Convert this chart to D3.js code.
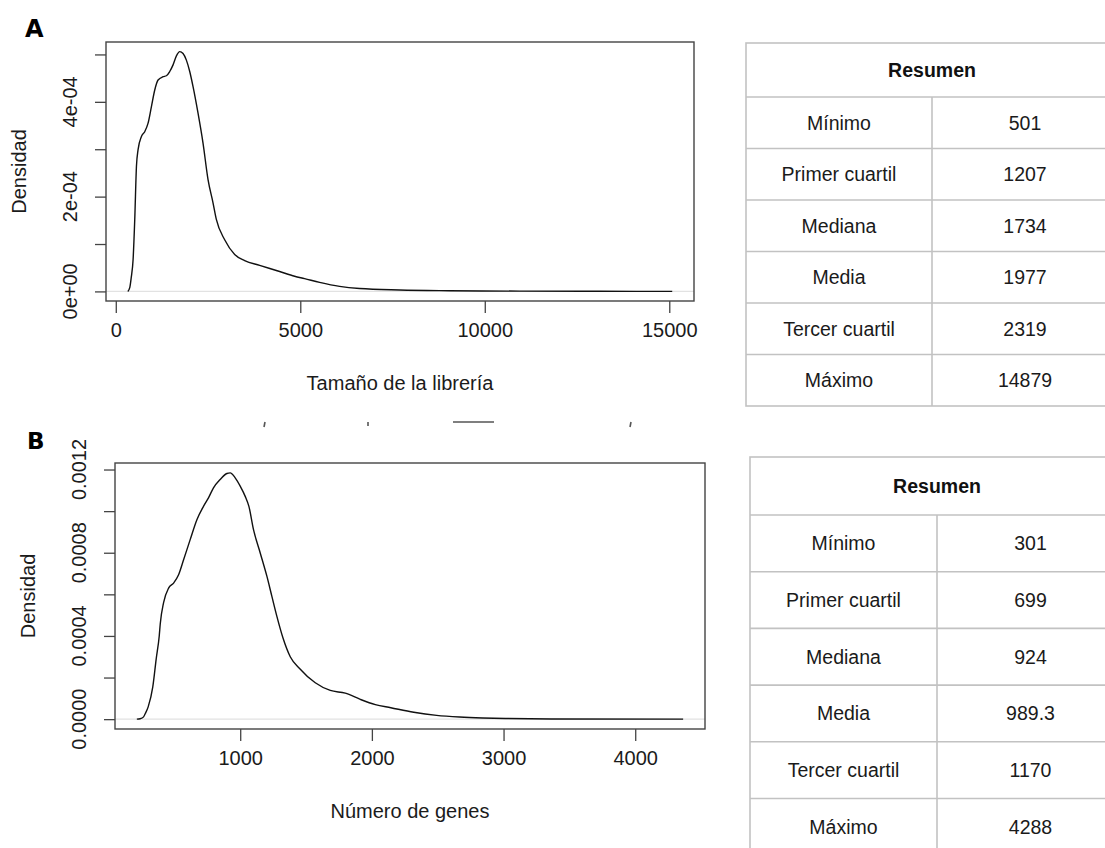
<!DOCTYPE html>
<html>
<head>
<meta charset="utf-8">
<script src="https://cdn.jsdelivr.net/npm/d3@7"></script>
<style>
  html, body { margin: 0; padding: 0; background: #fff; }
  svg { display: block; }
</style>
</head>
<body>
<svg id="fig" width="1105" height="848"></svg>
<script>
// ---- Panel A: library size density ----
const libSize = [325, 379, 420, 469, 514, 560, 604, 695, 785, 875, 966, 1056, 1146, 1281, 1372,
  1462, 1552, 1643, 1733, 1823, 1913, 2004, 2094, 2229, 2364, 2500, 2635, 2725, 2951, 3222,
  3493, 3899, 4440, 4847, 5117, 5523, 6065, 6607, 7690, 9043, 10939, 13105, 15080];
const libDensity = [0, 0.08e-4, 0.3e-4, 0.67e-4, 1.52e-4, 2.64e-4, 2.99e-4, 3.27e-4, 3.37e-4,
  3.55e-4, 3.90e-4, 4.25e-4, 4.46e-4, 4.53e-4, 4.55e-4, 4.64e-4, 4.78e-4, 4.97e-4, 5.06e-4,
  5.02e-4, 4.88e-4, 4.64e-4, 4.32e-4, 3.76e-4, 3.13e-4, 2.36e-4, 1.87e-4, 1.52e-4, 1.09e-4,
  0.78e-4, 0.65e-4, 0.55e-4, 0.42e-4, 0.32e-4, 0.27e-4, 0.19e-4, 0.105e-4, 0.06e-4, 0.03e-4,
  0.015e-4, 0.006e-4, 0.002e-4, 0];
const libXTicks = [0, 5000, 10000, 15000];
const libYTicks = [0, 1e-4, 2e-4, 3e-4, 4e-4, 5e-4];
const libYLabelTicks = [0, 2e-4, 4e-4];
const libYLabels = ["0e+00", "2e-04", "4e-04"];

// ---- Panel B: number of genes density ----
const geneCount = [215, 240, 266, 279, 301, 336, 362, 385, 393, 418, 456, 494, 532, 570, 620,
  671, 721, 759, 797, 848, 899, 924, 962, 1000, 1038, 1066, 1101, 1152, 1203, 1241, 1279,
  1325, 1380, 1449, 1570, 1684, 1798, 1912, 2026, 2144, 2318, 2492, 2666, 2840, 3014, 3362, 4364];
const geneDensity = [0, 0.02e-4, 0.11e-4, 0.27e-4, 0.59e-4, 1.55e-4, 2.9e-4, 4.0e-4, 4.6e-4,
  5.6e-4, 6.3e-4, 6.54e-4, 6.94e-4, 7.66e-4, 8.63e-4, 9.59e-4, 10.23e-4, 10.64e-4, 11.12e-4,
  11.52e-4, 11.81e-4, 11.84e-4, 11.60e-4, 11.20e-4, 10.71e-4, 10.23e-4, 9.11e-4, 7.99e-4,
  6.86e-4, 5.89e-4, 4.93e-4, 3.9e-4, 3.0e-4, 2.45e-4, 1.75e-4, 1.38e-4, 1.25e-4, 0.95e-4,
  0.70e-4, 0.55e-4, 0.33e-4, 0.18e-4, 0.10e-4, 0.055e-4, 0.03e-4, 0.008e-4, 0];
const geneXTicks = [1000, 2000, 3000, 4000];
const geneYTicks = [0, 0.0002, 0.0004, 0.0006, 0.0008, 0.0010, 0.0012];
const geneYLabelTicks = [0, 0.0004, 0.0008, 0.0012];
const geneYLabels = ["0.0000", "0.0004", "0.0008", "0.0012"];

// ---- Summary tables ----
const statNames = ["Mínimo", "Primer cuartil", "Mediana", "Media", "Tercer cuartil", "Máximo"];
const libStats = ["501", "1207", "1734", "1977", "2319", "14879"];
const geneStats = ["301", "699", "924", "989.3", "1170", "4288"];

const svg = d3.select("#fig");
const plotFont = "'Liberation Sans', Arial, Helvetica, sans-serif";
const ink = "#1b1b1b";

// R-style axis range: data extent padded by 4% on each side
function padded(ext) {
  const d = (ext[1] - ext[0]) * 0.04;
  return [ext[0] - d, ext[1] + d];
}

function densityPanel(cfg) {
  const { box, xs, ys, xTicks, yTicks, yLabelTicks, yLabels, xTitle } = cfg;
  const g = svg.append("g");
  const x = d3.scaleLinear().domain(padded(d3.extent(xs))).range([box.left, box.right]);
  const y = d3.scaleLinear().domain(padded(d3.extent(ys))).range([box.bottom, box.top]);

  // zero reference line
  g.append("line")
    .attr("x1", box.left).attr("x2", box.right)
    .attr("y1", y(0)).attr("y2", y(0))
    .attr("stroke", "#e2e2e2").attr("stroke-width", 1.2);

  // density curve
  const pts = xs.map((v, i) => [v, ys[i]]);
  g.append("path")
    .datum(pts)
    .attr("fill", "none")
    .attr("stroke", "#111")
    .attr("stroke-width", 1.4)
    .attr("d", d3.line().x(d => x(d[0])).y(d => y(d[1])).curve(d3.curveMonotoneX));

  // bottom axis
  const xAxis = d3.axisBottom(x).tickValues(xTicks).tickSize(12).tickPadding(10)
    .tickFormat(d3.format("d"));
  const xg = g.append("g").attr("transform", `translate(0,${box.bottom})`).call(xAxis);
  xg.select(".domain").remove();
  xg.selectAll(".tick line").attr("stroke", "#444").attr("stroke-width", 1.3);
  xg.selectAll(".tick text").attr("font-family", plotFont).attr("font-size", 20)
    .attr("fill", ink);

  // left axis ticks
  const yAxis = d3.axisLeft(y).tickValues(yTicks).tickSize(11).tickFormat("");
  const yg = g.append("g").attr("transform", `translate(${box.left},0)`).call(yAxis);
  yg.select(".domain").remove();
  yg.selectAll(".tick line").attr("stroke", "#444").attr("stroke-width", 1.3);

  // left axis labels, parallel to the axis
  g.selectAll("text.ylab")
    .data(yLabelTicks)
    .join("text")
    .attr("class", "ylab")
    .attr("transform", (d) => `translate(${box.left - 29},${y(d)}) rotate(-90)`)
    .attr("text-anchor", "middle")
    .attr("font-family", plotFont).attr("font-size", 20).attr("fill", ink)
    .text((d, i) => yLabels[i]);

  // frame
  g.append("rect")
    .attr("x", box.left).attr("y", box.top)
    .attr("width", box.right - box.left).attr("height", box.bottom - box.top)
    .attr("fill", "none").attr("stroke", "#444").attr("stroke-width", 1.4);

  // axis titles
  g.append("text")
    .attr("x", (box.left + box.right) / 2).attr("y", box.bottom + 89)
    .attr("text-anchor", "middle")
    .attr("font-family", plotFont).attr("font-size", 20).attr("fill", ink)
    .text(xTitle);
  g.append("text")
    .attr("transform", `translate(${box.left - 80},${(box.top + box.bottom) / 2}) rotate(-90)`)
    .attr("text-anchor", "middle")
    .attr("font-family", plotFont).attr("font-size", 20).attr("fill", ink)
    .text("Densidad");
}

densityPanel({
  box: { left: 106, right: 694, top: 42, bottom: 301 },
  xs: libSize, ys: libDensity,
  xTicks: libXTicks, yTicks: libYTicks,
  yLabelTicks: libYLabelTicks, yLabels: libYLabels,
  xTitle: "Tamaño de la librería"
});

densityPanel({
  box: { left: 115, right: 705, top: 463, bottom: 729 },
  xs: geneCount, ys: geneDensity,
  xTicks: geneXTicks, yTicks: geneYTicks,
  yLabelTicks: geneYLabelTicks, yLabels: geneYLabels,
  xTitle: "Número de genes"
});

// panel letters
svg.append("text").attr("x", 25).attr("y", 37)
  .attr("font-family", "'DejaVu Sans', Verdana, sans-serif").attr("font-weight", "bold")
  .attr("font-size", 24).attr("fill", "#000").text("A");
svg.append("text").attr("x", 27).attr("y", 449)
  .attr("font-family", "'DejaVu Sans', Verdana, sans-serif").attr("font-weight", "bold")
  .attr("font-size", 23).attr("fill", "#000").text("B");

// clipped remnants of a caption line above panel B
const remnant = svg.append("g").attr("stroke", "#555").attr("stroke-width", 1.6).attr("fill", "none");
[[265, 422, 264, 427], [368, 422, 368, 426], [453, 422, 494, 422], [631, 422, 630, 427]]
  .forEach(s => remnant.append("line")
    .attr("x1", s[0]).attr("y1", s[1]).attr("x2", s[2]).attr("y2", s[3]));

// summary table
function summaryTable(cfg) {
  const { left, top, width, headH, rowH, values } = cfg;
  const g = svg.append("g");
  const mid = left + width / 2;
  const rows = d3.scaleBand().domain(d3.range(statNames.length))
    .range([top + headH, top + headH + rowH * statNames.length]).paddingInner(0).paddingOuter(0);
  const bottom = top + headH + rowH * statNames.length;
  const lineColor = "#c2c2c2";

  // outer frame and header
  g.append("rect").attr("x", left).attr("y", top).attr("width", width).attr("height", bottom - top)
    .attr("fill", "none").attr("stroke", lineColor).attr("stroke-width", 1.6);
  g.selectAll("line.row")
    .data(d3.range(statNames.length))
    .join("line").attr("class", "row")
    .attr("x1", left).attr("x2", left + width)
    .attr("y1", d => rows(d)).attr("y2", d => rows(d))
    .attr("stroke", lineColor).attr("stroke-width", 1.6);
  g.append("line").attr("x1", mid).attr("x2", mid)
    .attr("y1", top + headH).attr("y2", bottom)
    .attr("stroke", lineColor).attr("stroke-width", 1.6);

  g.append("text").attr("x", mid).attr("y", top + headH / 2)
    .attr("dy", "0.35em").attr("text-anchor", "middle")
    .attr("font-family", plotFont).attr("font-weight", "bold").attr("font-size", 19.5)
    .attr("fill", "#111").text("Resumen");

  g.selectAll("text.name")
    .data(statNames)
    .join("text").attr("class", "name")
    .attr("x", (left + mid) / 2).attr("y", (d, i) => rows(i) + rowH / 2)
    .attr("dy", "0.35em").attr("text-anchor", "middle")
    .attr("font-family", plotFont).attr("font-size", 19.5).attr("fill", "#1a1a1a")
    .text(d => d);
  g.selectAll("text.val")
    .data(values)
    .join("text").attr("class", "val")
    .attr("x", (mid + left + width) / 2).attr("y", (d, i) => rows(i) + rowH / 2)
    .attr("dy", "0.35em").attr("text-anchor", "middle")
    .attr("font-family", plotFont).attr("font-size", 19.5).attr("fill", "#1a1a1a")
    .text(d => d);
}

summaryTable({ left: 746, top: 43, width: 372, headH: 54, rowH: 51.5, values: libStats });
summaryTable({ left: 750, top: 457, width: 374, headH: 58, rowH: 56.7, values: geneStats });
</script>
</body>
</html>
